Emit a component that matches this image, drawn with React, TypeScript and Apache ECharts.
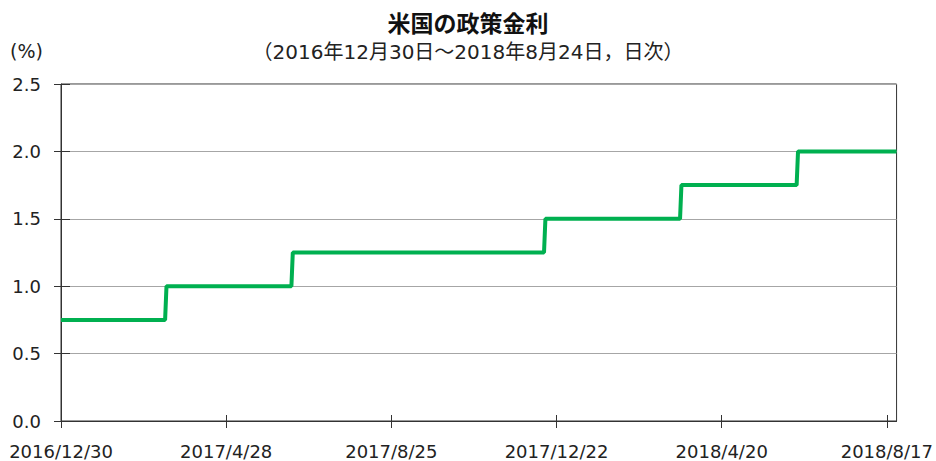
import React, { useEffect, useRef } from "react";
import * as echarts from "echarts";

const titleText = "米国の政策金利";
const subtitleText = "（2016年12月30日～2018年8月24日，日次）";
const unitText = "(%)";
const startDate = "2016/12/30";
const endDate = "2018/8/24";
const changeDates = ["2016/12/30", "2017/3/16", "2017/6/15", "2017/12/14", "2018/3/22", "2018/6/14"];
const rates = [0.75, 1.0, 1.25, 1.5, 1.75, 2.0];
const yTicks = [0, 0.5, 1.0, 1.5, 2.0, 2.5];
const labelEvery = 119; // days between x-axis labels

const toUTC = (s: string) => {
  const [y, m, d] = s.split("/").map(Number);
  return Date.UTC(y, m - 1, d);
};
const fmt = (t: number) => {
  const d = new Date(t);
  return `${d.getUTCFullYear()}/${d.getUTCMonth() + 1}/${d.getUTCDate()}`;
};

const DAY = 86400000;
const categories: string[] = [];
const values: number[] = [];
{
  const changes = changeDates.map(toUTC);
  for (let t = toUTC(startDate); t <= toUTC(endDate); t += DAY) {
    categories.push(fmt(t));
    let r = rates[0];
    for (let i = 0; i < changes.length; i++) if (changes[i] <= t) r = rates[i];
    values.push(r);
  }
}

const FONT = "'DejaVu Sans', 'Noto Sans CJK JP', sans-serif";

export default function App() {
  const ref = useRef<HTMLDivElement>(null);
  useEffect(() => {
    if (!ref.current) return;
    const chart = echarts.init(ref.current, null, { renderer: "svg" });
    const yBase = {
      type: "value" as const,
      min: yTicks[0],
      max: yTicks[yTicks.length - 1],
      interval: 0.5,
    };
    chart.setOption({
      animation: false,
      backgroundColor: "#ffffff",
      title: [
        {
          text: titleText,
          left: "center",
          top: 10,
          padding: 0,
          textStyle: { fontFamily: "'Noto Sans CJK JP', sans-serif", fontSize: 23, fontWeight: "bold", color: "#111" },
        },
        {
          text: subtitleText,
          left: "center",
          top: 42,
          padding: 0,
          textStyle: { fontFamily: FONT, fontSize: 20, fontWeight: "normal", color: "#222" },
        },
      ],
      graphic: [
        {
          type: "text",
          left: 10,
          top: 41,
          style: { text: unitText, font: `19px ${FONT}`, fill: "#222" },
        },
      ],
      grid: {
        left: 61,
        right: 38,
        top: 84,
        bottom: 40,
        show: true,
        borderColor: "#333",
        borderWidth: 1,
        containLabel: false,
      },
      xAxis: [
        {
          type: "category",
          data: categories,
          boundaryGap: false,
          axisLine: { lineStyle: { color: "#333", width: 1 } },
          axisTick: { show: true, interval: labelEvery - 1, length: 7, lineStyle: { color: "#333" } },
          axisLabel: {
            interval: labelEvery - 1,
            margin: 21,
            fontSize: 18,
            fontFamily: FONT,
            color: "#222",
          },
          splitLine: { show: false },
        },
        {
          type: "category",
          data: categories,
          boundaryGap: false,
          position: "bottom",
          axisLine: { show: false },
          axisTick: { show: true, inside: true, interval: labelEvery - 1, length: 6, lineStyle: { color: "#333" } },
          axisLabel: { show: false },
          splitLine: { show: false },
        },
      ],
      yAxis: [
        {
          ...yBase,
          axisLine: { show: true, lineStyle: { color: "#333", width: 1 } },
          axisTick: { show: true, length: 7, lineStyle: { color: "#333" } },
          axisLabel: {
            margin: 20,
            fontSize: 18,
            fontFamily: FONT,
            color: "#222",
            formatter: (v: number) => v.toFixed(1),
          },
          splitLine: { show: true, lineStyle: { color: "#a6a6a6", width: 1 } },
        },
        {
          ...yBase,
          position: "left",
          axisLine: { show: false },
          axisTick: { show: true, inside: true, length: 9, lineStyle: { color: "#333" } },
          axisLabel: { show: false },
          splitLine: { show: false },
        },
      ],
      series: [
        {
          type: "line",
          data: values,
          xAxisIndex: 0,
          yAxisIndex: 0,
          symbol: "none",
          lineStyle: { color: "#00b050", width: 4 },
          itemStyle: { color: "#00b050" },
          z: 5,
        },
      ],
    });
    return () => chart.dispose();
  }, []);
  return (
    <div
      ref={ref}
      style={{ position: "fixed", left: 0, top: 0, width: 936, height: 461 }}
    />
  );
}
